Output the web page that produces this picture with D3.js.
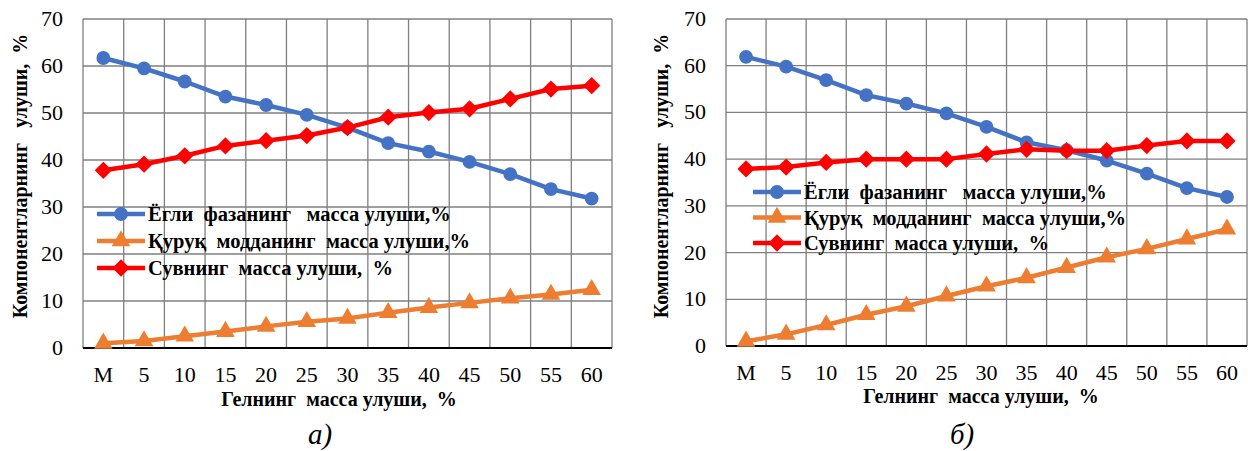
<!DOCTYPE html>
<html>
<head>
<meta charset="utf-8">
<script src="https://cdn.jsdelivr.net/npm/d3@7"></script>
<style>
  html, body { margin: 0; padding: 0; background: #fff; }
  svg { display: block; }
</style>
</head>
<body>
<svg id="chart" width="1248" height="451"></svg>
<script>
// Gel mass fraction categories (M = base sample)
const categories = ["M", "5", "10", "15", "20", "25", "30", "35", "40", "45", "50", "55", "60"];
const yTicks = [0, 10, 20, 30, 40, 50, 60, 70];

// Panel а)
const oilA   = [61.7, 59.5, 56.7, 53.5, 51.7, 49.6, 46.9, 43.6, 41.8, 39.6, 37.0, 33.8, 31.8];
const solidA = [1.0, 1.5, 2.5, 3.5, 4.6, 5.6, 6.3, 7.5, 8.6, 9.6, 10.6, 11.4, 12.4];
const waterA = [37.8, 39.1, 40.9, 43.0, 44.1, 45.2, 46.9, 49.1, 50.1, 50.9, 53.0, 55.1, 55.8];

// Panel б)
const oilB   = [61.9, 59.8, 56.9, 53.7, 51.9, 49.8, 46.9, 43.6, 41.9, 39.7, 36.9, 33.8, 31.9];
const solidB = [1.0, 2.5, 4.5, 6.7, 8.5, 10.7, 12.8, 14.6, 16.8, 19.0, 20.8, 22.9, 25.0];
const waterB = [37.9, 38.3, 39.3, 40.0, 40.0, 40.0, 41.1, 42.1, 41.8, 41.8, 42.9, 43.9, 43.9];

const seriesNames = [
  "Ёгли  фазанинг   масса улуши,%",
  "Қуруқ  модданинг  масса улуши,%",
  "Сувнинг  масса улуши,  %"
];
const seriesColors = ["#4472C4", "#ED7D31", "#FF0000"];
const seriesMarkers = ["circle", "triangle", "diamond"];
const xTitle = "Гелнинг  масса улуши,  %";
const yTitle = "Компонентларнинг   улуши,  %";
const captions = ["а)", "б)"];

const svg = d3.select("#chart");
const SERIF = '"Liberation Serif"';

// shared text styling
function styled(sel, size, weight, italic) {
  return sel.style("font-family", SERIF)
    .style("font-size", size + "px")
    .style("font-weight", weight || "normal")
    .style("font-style", italic ? "italic" : "normal")
    .style("white-space", "pre")
    .attr("fill", "#000");
}

function markerPath(type) {
  if (type === "circle") return d3.symbol(d3.symbolCircle, 150)();
  if (type === "triangle") return d3.symbol(d3.symbolTriangle, 150)();
  return d3.symbol(d3.symbolDiamond2, 190)();
}

function drawPanel(cfg) {
  const { left, right, top, bottom, series, legend, xTitlePos, yTitlePos, caption, captionPos } = cfg;
  const g = svg.append("g");

  const x = d3.scaleBand().domain(categories).range([left, right]);
  const y = d3.scaleLinear().domain([0, 70]).range([bottom, top]);

  // horizontal grid
  g.append("g").selectAll("line").data(yTicks.filter(t => t > 0)).join("line")
    .attr("x1", left).attr("x2", right)
    .attr("y1", d => y(d)).attr("y2", d => y(d))
    .attr("stroke", "#7f7f7f").attr("stroke-width", 1.3);

  // vertical grid at band boundaries
  const bounds = categories.map(c => x(c)).concat([right]);
  g.append("g").selectAll("line").data(bounds).join("line")
    .attr("x1", d => d).attr("x2", d => d)
    .attr("y1", top).attr("y2", bottom)
    .attr("stroke", "#7f7f7f").attr("stroke-width", 1.3);

  // x axis baseline
  g.append("line").attr("x1", left).attr("x2", right)
    .attr("y1", bottom).attr("y2", bottom)
    .attr("stroke", "#000").attr("stroke-width", 2);

  // y tick labels
  styled(g.append("g").selectAll("text").data(yTicks).join("text"), 22)
    .attr("x", left - 20).attr("y", d => y(d) + 7)
    .attr("text-anchor", "end")
    .text(d => d);

  // x tick labels
  styled(g.append("g").selectAll("text").data(categories).join("text"), 22)
    .attr("x", d => x(d) + x.bandwidth() / 2).attr("y", bottom + 34)
    .attr("text-anchor", "middle")
    .text(d => d);

  // axis titles
  styled(g.append("text"), 20, "bold")
    .attr("x", xTitlePos[0]).attr("y", xTitlePos[1])
    .attr("text-anchor", "middle")
    .text(xTitle);
  styled(g.append("text"), 20, "bold")
    .attr("transform", `translate(${yTitlePos[0]},${yTitlePos[1]}) rotate(-90)`)
    .attr("text-anchor", "middle")
    .text(yTitle);

  // caption
  styled(g.append("text"), 29, "normal", true)
    .attr("x", captionPos[0]).attr("y", captionPos[1])
    .attr("text-anchor", "middle")
    .text(caption);

  const line = d3.line()
    .x((d, i) => x(categories[i]) + x.bandwidth() / 2)
    .y(d => y(d));

  // legend
  const lg = g.append("g");
  seriesNames.forEach((name, k) => {
    const ry = legend.y + k * legend.dy;
    lg.append("line").attr("x1", legend.x).attr("x2", legend.x + 48)
      .attr("y1", ry).attr("y2", ry)
      .attr("stroke", seriesColors[k]).attr("stroke-width", 4.5);
    lg.append("path").attr("d", markerPath(seriesMarkers[k]))
      .attr("transform", `translate(${legend.x + 24},${ry})`)
      .attr("fill", seriesColors[k]);
    styled(lg.append("text"), 20.5, "bold")
      .attr("x", legend.x + 51).attr("y", ry + 7)
      .text(name);
  });

  // series lines and markers
  series.forEach((vals, k) => {
    g.append("path").datum(vals).attr("d", line)
      .attr("fill", "none").attr("stroke", seriesColors[k])
      .attr("stroke-width", 4.5).attr("stroke-linejoin", "round");
    g.append("g").selectAll("path").data(vals).join("path")
      .attr("d", markerPath(seriesMarkers[k]))
      .attr("transform", (d, i) => `translate(${x(categories[i]) + x.bandwidth() / 2},${y(d)})`)
      .attr("fill", seriesColors[k]);
  });
}

drawPanel({
  left: 83, right: 612, top: 19, bottom: 348,
  series: [oilA, solidA, waterA],
  legend: { x: 97, y: 214, dy: 27 },
  xTitlePos: [339, 406], yTitlePos: [27, 176],
  caption: captions[0], captionPos: [320, 444]
});

drawPanel({
  left: 726, right: 1247, top: 19, bottom: 346,
  series: [oilB, solidB, waterB],
  legend: { x: 753, y: 192, dy: 25.5 },
  xTitlePos: [981, 403], yTitlePos: [668, 176],
  caption: captions[1], captionPos: [962, 444]
});
</script>
</body>
</html>
